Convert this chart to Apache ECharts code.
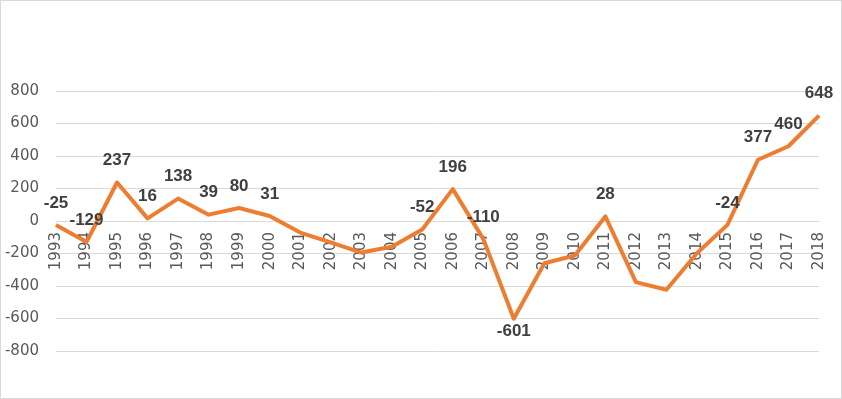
<!DOCTYPE html>
<html>
<head>
<meta charset="utf-8">
<script src="https://cdn.jsdelivr.net/npm/echarts@6/dist/echarts.min.js"></script>
<style>
  html, body { margin: 0; padding: 0; background: #fff; }
  #frame { width: 842px; height: 399px; box-sizing: border-box; border: 1px solid #d9d9d9; }
  #myChart { width: 840px; height: 397px; }
</style>
</head>
<body>
<div id="frame"><div id="myChart"></div></div>
<script>
// data
const years = ['1993', '1994', '1995', '1996', '1997', '1998', '1999', '2000', '2001', '2002',
  '2003', '2004', '2005', '2006', '2007', '2008', '2009', '2010', '2011', '2012',
  '2013', '2014', '2015', '2016', '2017', '2018']
const values = [-25, -129, 237, 16, 138, 39, 80, 31, -71, -132,
  -194, -158, -52, 196, -110, -601, -260, -212, 28, -376,
  -423, -198, -24, 377, 460, 648]
// years whose value is written on the chart
const labeledYears = ['1993', '1994', '1995', '1996', '1997', '1998', '1999', '2000',
  '2005', '2006', '2007', '2008', '2011', '2015', '2016', '2017', '2018']
const belowYears = ['2008']
const yTicks = { min: -800, max: 800, interval: 200 }

const gridTop = 90
const gridBottom = 47
const plotHeight = 397 - gridTop - gridBottom

let myChart = echarts.init(document.getElementById('myChart'))

let seriesData = values.map(function (v, i) {
  let y = years[i]
  return {
    value: v,
    label: {
      show: labeledYears.indexOf(y) >= 0,
      position: belowYears.indexOf(y) >= 0 ? 'bottom' : 'top',
      distance: belowYears.indexOf(y) >= 0 ? 4 : 13
    }
  }
})

myChart.setOption({
  animation: false,
  grid: { left: 55, right: 22, top: gridTop, bottom: gridBottom },
  xAxis: {
    type: 'category',
    data: years,
    boundaryGap: false,
    position: 'bottom',
    // sit the axis on the zero line, like onZero
    offset: -plotHeight * (0 - yTicks.min) / (yTicks.max - yTicks.min),
    axisLine: { show: true, onZero: false, lineStyle: { color: '#d9d9d9', width: 1 } },
    axisTick: { show: false },
    axisLabel: {
      rotate: 90,
      interval: 0,
      margin: 11,
      color: '#595959',
      fontFamily: 'DejaVu Sans',
      fontSize: 15
    }
  },
  yAxis: {
    type: 'value',
    min: yTicks.min,
    max: yTicks.max,
    interval: yTicks.interval,
    axisLine: { show: false },
    axisTick: { show: false },
    splitLine: { lineStyle: { color: '#d9d9d9', width: 1 } },
    axisLabel: {
      margin: 17,
      color: '#595959',
      fontFamily: 'DejaVu Sans',
      fontSize: 15
    }
  },
  series: [{
    type: 'line',
    data: seriesData,
    symbol: 'circle',
    symbolSize: 1,
    showSymbol: true,
    lineStyle: { color: '#ed7d31', width: 4, join: 'round' },
    itemStyle: { color: '#ed7d31' },
    z: 3,
    label: {
      color: '#404040',
      fontFamily: 'Liberation Sans',
      fontWeight: 'bold',
      fontSize: 17
    }
  }]
})
</script>
</body>
</html>
